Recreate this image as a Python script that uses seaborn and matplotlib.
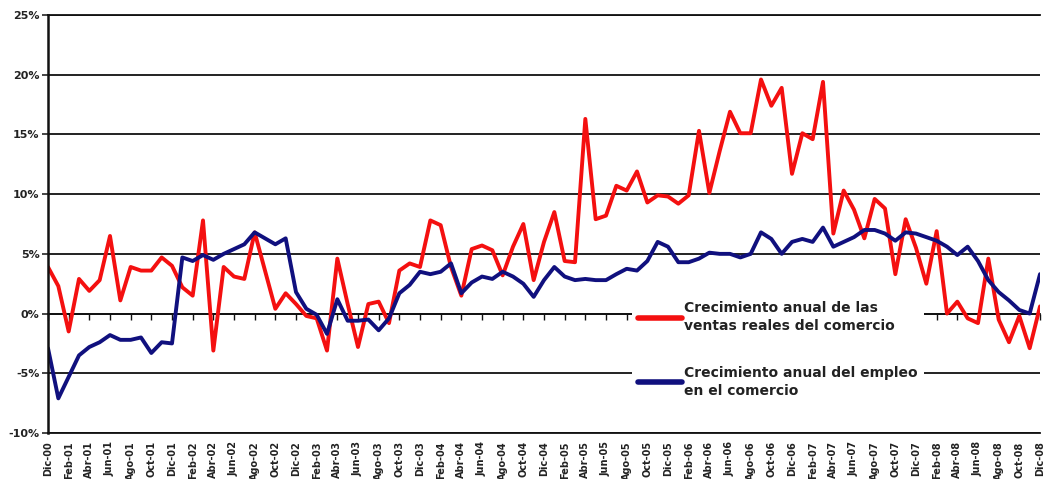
import pandas as pd
import seaborn as sns
import matplotlib.pyplot as plt
import matplotlib.ticker as mticker

# meses en espanol, la serie va de Dic-00 a Dic-08 (97 meses)
meses = ['Ene', 'Feb', 'Mar', 'Abr', 'May', 'Jun', 'Jul', 'Ago', 'Sep', 'Oct', 'Nov', 'Dic']
periodos = [f"{meses[(11 + k) % 12]}-{(11 + k) // 12:02d}" for k in range(97)]

# crecimiento anual de las ventas reales del comercio (%)
ventas = [3.9, 2.3, -1.5, 2.9, 1.9, 2.8, 6.5, 1.1, 3.9, 3.6, 3.6, 4.7, 4.0,
          2.2, 1.5, 7.8, -3.1, 3.9, 3.1, 2.9, 6.8, 3.6, 0.4, 1.7, 0.8,
          -0.2, -0.4, -3.1, 4.6, 0.8, -2.8, 0.8, 1.0, -0.8, 3.6, 4.2, 3.9,
          7.8, 7.4, 3.9, 1.5, 5.4, 5.7, 5.3, 3.2, 5.6, 7.5, 2.8, 6.0,
          8.5, 4.4, 4.3, 16.3, 7.9, 8.2, 10.7, 10.3, 11.9, 9.3, 9.9, 9.8,
          9.2, 9.9, 15.3, 10.1, 13.6, 16.9, 15.1, 15.1, 19.6, 17.4, 18.9, 11.7,
          15.1, 14.6, 19.4, 6.7, 10.3, 8.7, 6.3, 9.6, 8.8, 3.3, 7.9, 5.5,
          2.5, 6.9, 0.0, 1.0, -0.4, -0.8, 4.6, -0.5, -2.4, -0.2, -2.9, 0.6]

# crecimiento anual del empleo en el comercio (%)
empleo = [-2.9, -7.1, -5.3, -3.5, -2.8, -2.4, -1.8, -2.2, -2.2, -2.0, -3.3, -2.4, -2.5,
          4.7, 4.4, 4.9, 4.5, 5.0, 5.4, 5.8, 6.8, 6.3, 5.8, 6.3, 1.8,
          0.4, -0.1, -1.7, 1.2, -0.6, -0.6, -0.5, -1.4, -0.4, 1.7, 2.4, 3.5,
          3.3, 3.5, 4.2, 1.7, 2.6, 3.1, 2.9, 3.5, 3.1, 2.5, 1.4, 2.8,
          3.9, 3.1, 2.8, 2.9, 2.8, 2.8, 3.3, 3.75, 3.6, 4.4, 6.0, 5.6,
          4.3, 4.3, 4.6, 5.1, 5.0, 5.0, 4.7, 5.0, 6.8, 6.25, 5.0, 6.0,
          6.25, 6.0, 7.2, 5.6, 6.0, 6.4, 7.0, 7.0, 6.7, 6.1, 6.8, 6.7,
          6.4, 6.1, 5.6, 4.9, 5.6, 4.4, 2.8, 1.8, 1.1, 0.3, 0.0, 3.3]

etiqueta_ventas = 'Crecimiento anual de las\nventas reales del comercio'
etiqueta_empleo = 'Crecimiento anual del empleo\nen el comercio'

sns.set_style("white")
plt.rcParams['font.family'] = ['DejaVu Sans']
plt.rcParams['font.weight'] = 'bold'

df = pd.DataFrame({'mes': range(len(periodos)), 'ventas': ventas, 'empleo': empleo})

fig = plt.figure(figsize=(10.48, 4.79), dpi=100)
ax = fig.add_axes([48 / 1048, 46 / 479, 992 / 1048, 418 / 479])

sns.lineplot(data=df, x='mes', y='ventas', color='#f41010', lw=2.8, ax=ax,
             label=etiqueta_ventas, solid_joinstyle='round')
sns.lineplot(data=df, x='mes', y='empleo', color='#10107e', lw=2.8, ax=ax,
             label=etiqueta_empleo, solid_joinstyle='round')

ax.set_xlim(0, 96)
ax.set_ylim(-10, 25)
ax.set_xlabel('')
ax.set_ylabel('')

ax.set_yticks(range(-10, 26, 5))
ax.yaxis.set_major_formatter(mticker.FuncFormatter(lambda v, p: f"{v:.0f}%"))
ax.tick_params(axis='y', length=4, width=1.2, direction='out', left=True, pad=2,
               labelsize=8, labelcolor='#222222')

ax.set_xticks(range(0, 97, 2))
ax.set_xticklabels(periodos[::2], rotation=90, fontsize=7, color='#222222')
ax.tick_params(axis='x', length=0, pad=6)

ax.grid(axis='y', color='#111111', lw=1.3)
ax.grid(axis='x', visible=False)
for lado in ['left', 'top', 'bottom']:
    ax.spines[lado].set_visible(True)
    ax.spines[lado].set_color('#111111')
ax.spines['left'].set_linewidth(1.8)
ax.spines['top'].set_linewidth(1.3)
ax.spines['bottom'].set_linewidth(1.3)
ax.spines['right'].set_visible(False)

# eje horizontal cruzando en 0% con sus marcas (estilo Excel)
eje0 = ax.secondary_xaxis(10 / 35)
eje0.set_xticks(range(0, 97, 2))
eje0.tick_params(length=4, width=1, direction='out', labelbottom=False, color='#111111')
eje0.spines['bottom'].set_linewidth(1.3)
eje0.spines['bottom'].set_color('#111111')

leg = ax.legend(loc='upper left', bbox_to_anchor=(0.589, 0.3286), borderaxespad=0,
                frameon=True, facecolor='white', edgecolor='none', framealpha=1,
                fontsize=10, handlelength=3.2, handletextpad=0.15, labelspacing=2.35,
                borderpad=0.4)
for t in leg.get_texts():
    t.set_fontweight('bold')
    t.set_color('#222222')
    t.set_linespacing(1.35)
for h in leg.get_lines():
    h.set_linewidth(4)

fig.savefig('out.png', dpi=100)
